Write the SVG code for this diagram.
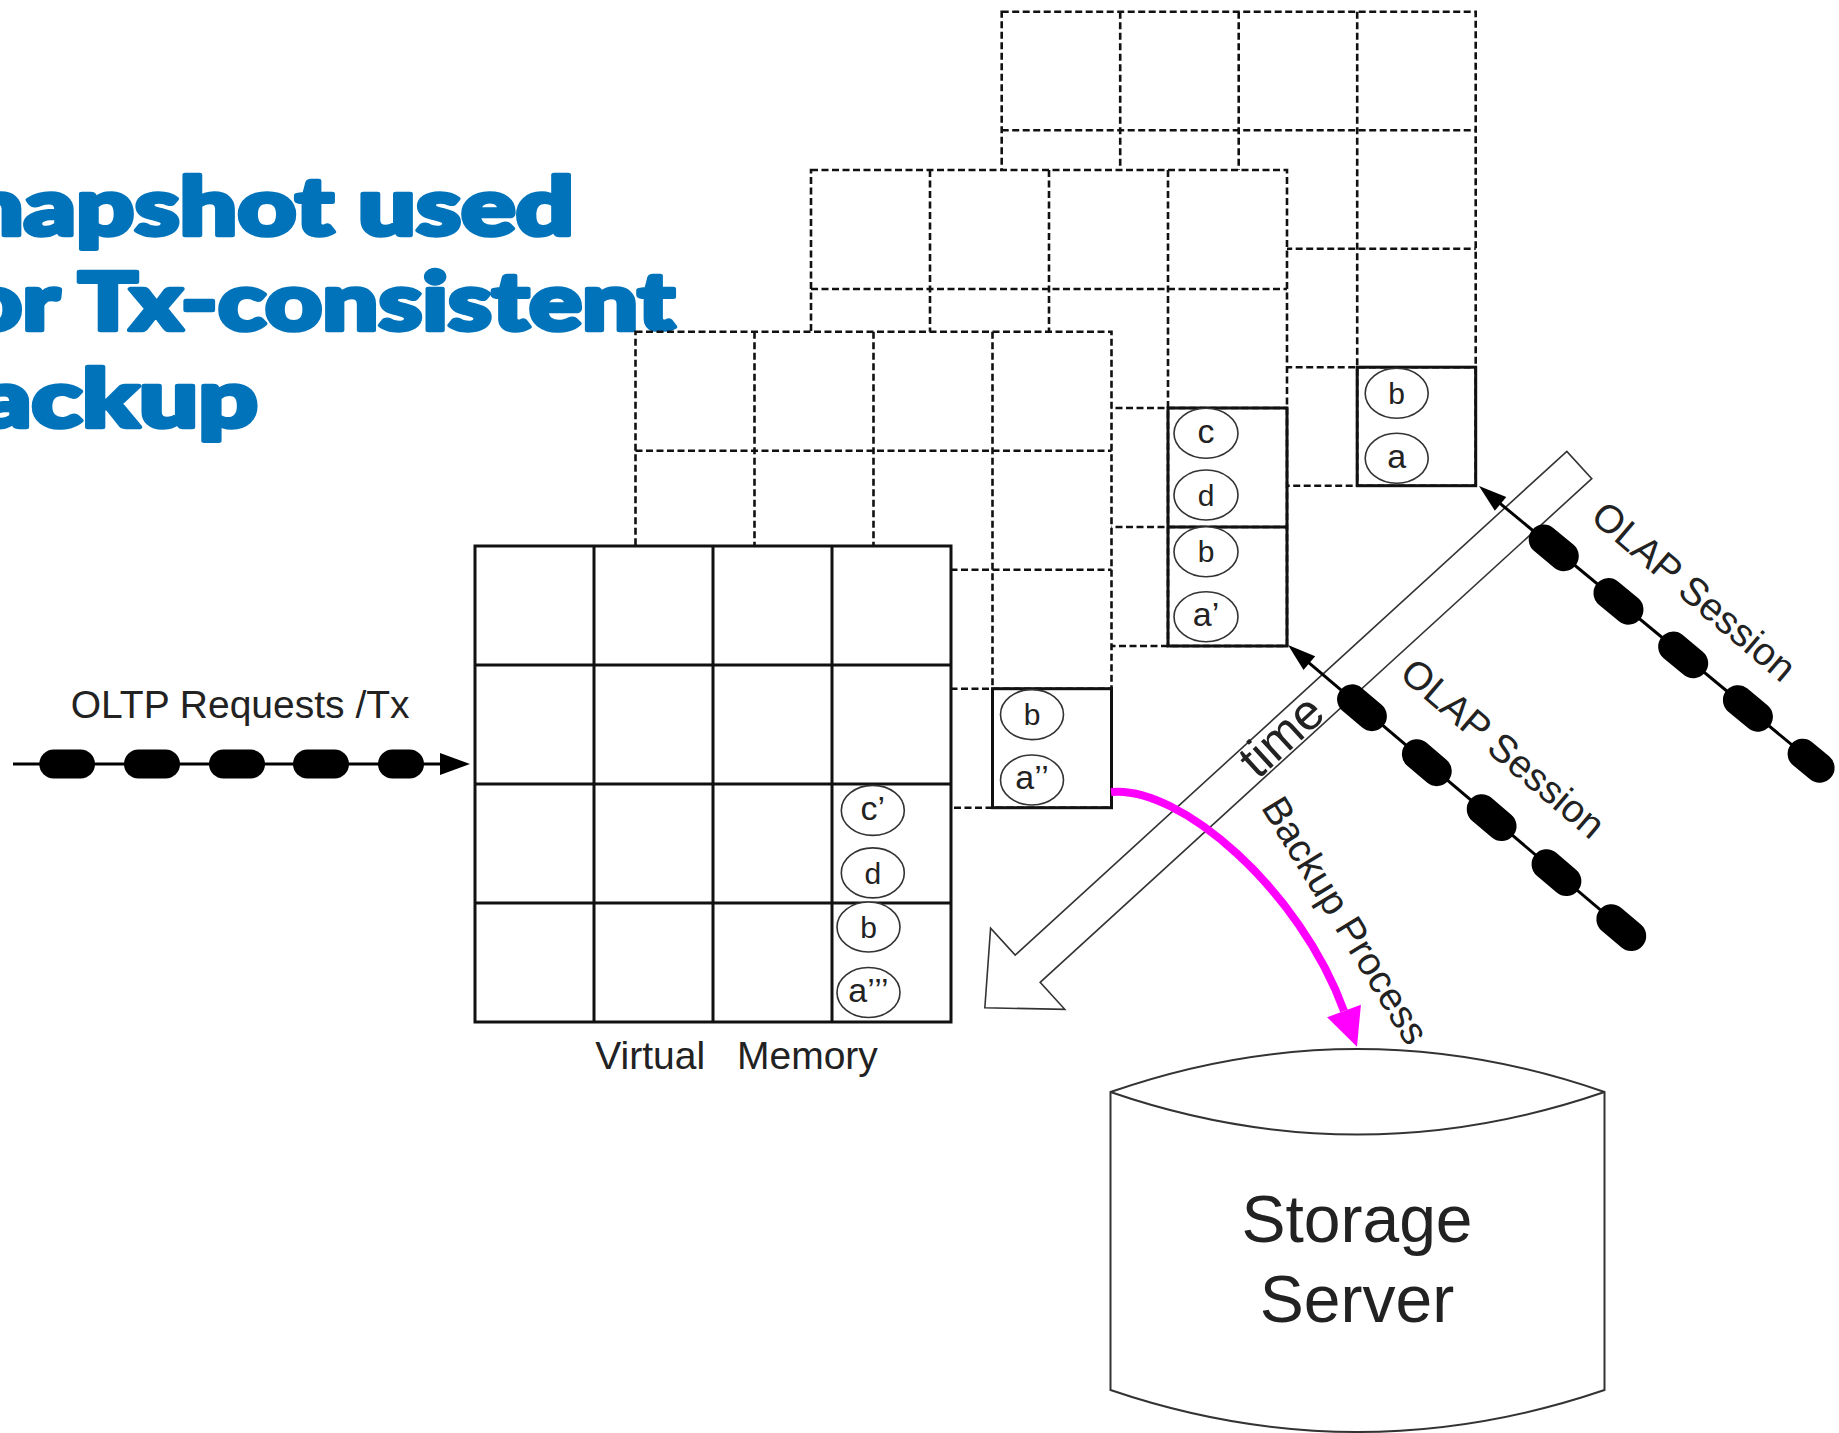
<svg xmlns="http://www.w3.org/2000/svg" width="1839" height="1433" viewBox="0 0 1839 1433">
<defs>
<style>
.bg{fill:#fff;stroke:none}
.dash{fill:none;stroke:#111;stroke-width:2.6;stroke-dasharray:7 3.5}
.solid{fill:none;stroke:#111;stroke-width:3}
.ell{fill:#fff;stroke:#333;stroke-width:1.6}
.lt{font-family:"Liberation Sans",Arial,sans-serif;font-size:30px;fill:#222;text-anchor:middle}
.lx{font-size:34px}
.lbl{font-family:"Liberation Sans",Arial,sans-serif;font-size:39px;fill:#222}
.title{font-family:Lato,Roboto,Inter,"Liberation Sans",sans-serif;font-weight:900;font-size:80px;fill:#0073BA;stroke:#0073BA;stroke-width:4.5;stroke-linejoin:round}
.pill{fill:#000}
.cl{stroke:#000;stroke-width:3;fill:none}
.tarrow{fill:#fff;stroke:#333;stroke-width:1.6}
</style>
</defs>
<rect width="1839" height="1433" fill="#fff"/>

<g id="title">
<text class="title" x="-34" y="235" textLength="608" lengthAdjust="spacingAndGlyphs">napshot used</text>
<text class="title" x="-35" y="330" textLength="710" lengthAdjust="spacingAndGlyphs">or Tx-consistent</text>
<text class="title" x="-22" y="426.7" textLength="280" lengthAdjust="spacingAndGlyphs">ackup</text>
</g>

<g id="snapshot-1">
<rect class="bg" x="1001.7" y="11.7" width="474" height="474"/>
<path class="dash" d="M1001.7,11.7 H1475.7 V485.7 H1001.7 Z M1120.2,11.7 V485.7 M1238.7,11.7 V485.7 M1357.2,11.7 V485.7 M1001.7,130.2 H1475.7 M1001.7,248.7 H1475.7 M1001.7,367.2 H1475.7"/>
<rect class="solid" x="1357.2" y="367.2" width="118.5" height="118.5"/>
<ellipse class="ell" cx="1396.7" cy="393.3" rx="31.5" ry="25"/>
<text class="lt" x="1396.7" y="404">b</text>
<ellipse class="ell" cx="1396.7" cy="458.3" rx="31.5" ry="25"/>
<text class="lt lx" x="1396.7" y="467.5">a</text>
</g>

<g id="snapshot-2">
<rect class="bg" x="811" y="170" width="476" height="476"/>
<path class="dash" d="M811,170 H1287 V646 H811 Z M930,170 V646 M1049,170 V646 M1168,170 V646 M811,289 H1287 M811,408 H1287 M811,527 H1287"/>
<rect class="solid" x="1168" y="408" width="119" height="238"/>
<line class="solid" x1="1168" y1="527" x2="1287" y2="527"/>
<ellipse class="ell" cx="1206" cy="433.3" rx="32" ry="25"/>
<text class="lt lx" x="1206" y="442.5">c</text>
<ellipse class="ell" cx="1206" cy="495" rx="32" ry="25"/>
<text class="lt" x="1206" y="505.7">d</text>
<ellipse class="ell" cx="1206" cy="551.7" rx="32" ry="25"/>
<text class="lt" x="1206" y="562.4">b</text>
<ellipse class="ell" cx="1206" cy="616.7" rx="32" ry="25"/>
<text class="lt lx" x="1206" y="625.9">a’</text>
</g>

<g id="snapshot-3">
<rect class="bg" x="635.5" y="331.7" width="476" height="476"/>
<path class="dash" d="M635.5,331.7 H1111.5 V807.7 H635.5 Z M754.5,331.7 V807.7 M873.5,331.7 V807.7 M992.5,331.7 V807.7 M635.5,450.7 H1111.5 M635.5,569.7 H1111.5 M635.5,688.7 H1111.5"/>
<rect class="solid" x="992.5" y="688.7" width="119" height="119"/>
<ellipse class="ell" cx="1032" cy="714.6" rx="31.5" ry="25"/>
<text class="lt" x="1032" y="725.3">b</text>
<ellipse class="ell" cx="1032" cy="780" rx="31.5" ry="25"/>
<text class="lt lx" x="1032" y="789.2">a’’</text>
</g>

<g id="virtual-memory">
<rect class="bg" x="475" y="546" width="476" height="476"/>
<path class="solid" d="M475,546 H951 V1022 H475 Z M594,546 V1022 M713,546 V1022 M832,546 V1022 M475,665 H951 M475,784 H951 M475,903 H951"/>
<ellipse class="ell" cx="872.8" cy="810.4" rx="31.5" ry="25"/>
<text class="lt lx" x="872.8" y="819.6">c’</text>
<ellipse class="ell" cx="872.8" cy="872.9" rx="31.5" ry="25"/>
<text class="lt" x="872.8" y="883.6">d</text>
<ellipse class="ell" cx="868.5" cy="927" rx="31.5" ry="25"/>
<text class="lt" x="868.5" y="937.7">b</text>
<ellipse class="ell" cx="868.5" cy="992.5" rx="31.5" ry="25"/>
<text class="lt lx" x="868.5" y="1001.7">a’’’</text>
<text class="lbl" y="1069.3"><tspan x="595.3">Virtual</tspan><tspan x="737">Memory</tspan></text>
</g>

<g id="time-arrow">
<polygon class="tarrow" transform="translate(1579.3,465) rotate(137.6)" points="0,-18.5 747,-18.5 747,-55 805,0 747,55 747,18.5 0,18.5"/>
<text class="lbl" style="font-size:50px" text-anchor="middle" transform="translate(1292.6,748.3) rotate(-42.4)">time</text>
</g>

<g id="storage-server">
<path fill="#fff" stroke="#333" stroke-width="2" d="M1110.5,1092 Q1357.5,1006 1604.5,1092 L1604.5,1390 Q1357.5,1474 1110.5,1390 Z"/>
<path fill="none" stroke="#333" stroke-width="2" d="M1110.5,1092 Q1357.5,1177 1604.5,1092"/>
<text class="lbl" style="font-size:66px" text-anchor="middle" x="1357" y="1241.7">Storage</text>
<text class="lbl" style="font-size:66px" text-anchor="middle" x="1357" y="1321.7">Server</text>
</g>

<g id="connectors">
<g id="oltp-requests">
<line class="cl" x1="13" y1="764" x2="442" y2="764"/>
<polygon points="470,764 440,753 440,775" fill="#000"/>
<rect class="pill" x="39.3" y="749.5" width="55.7" height="29" rx="14.5"/>
<rect class="pill" x="124" y="749.5" width="56" height="29" rx="14.5"/>
<rect class="pill" x="209" y="749.5" width="56" height="29" rx="14.5"/>
<rect class="pill" x="293" y="749.5" width="56" height="29" rx="14.5"/>
<rect class="pill" x="378" y="749.5" width="46" height="29" rx="14.5"/>
<text class="lbl" x="70.7" y="718.3">OLTP Requests /Tx</text>
</g>
<g id="olap-session-1">
<g transform="translate(1479,486) rotate(39.6)">
<line class="cl" x1="26" y1="0" x2="432" y2="0"/>
<polygon points="0,0 28,-9 28,9" fill="#000"/>
<rect class="pill" x="69" y="-15" width="56" height="30" rx="15"/>
<rect class="pill" x="153" y="-15" width="56" height="30" rx="15"/>
<rect class="pill" x="237" y="-15" width="56" height="30" rx="15"/>
<rect class="pill" x="321" y="-15" width="56" height="30" rx="15"/>
<rect class="pill" x="405" y="-15" width="52" height="30" rx="15"/>
</g>
<text class="lbl" text-anchor="middle" transform="translate(1685.4,601.5) rotate(40.4)">OLAP Session</text>
</g>
<g id="olap-session-2">
<g transform="translate(1288,645) rotate(40.3)">
<line class="cl" x1="26" y1="0" x2="437" y2="0"/>
<polygon points="0,0 28,-9 28,9" fill="#000"/>
<rect class="pill" x="69" y="-15" width="56" height="30" rx="15"/>
<rect class="pill" x="154" y="-15" width="56" height="30" rx="15"/>
<rect class="pill" x="239" y="-15" width="56" height="30" rx="15"/>
<rect class="pill" x="324" y="-15" width="56" height="30" rx="15"/>
<rect class="pill" x="409" y="-15" width="56" height="30" rx="15"/>
</g>
<text class="lbl" text-anchor="middle" transform="translate(1494.4,758.5) rotate(40.4)">OLAP Session</text>
</g>
<g id="backup-process">
<path d="M1111,792 C1180,785 1300,890 1344,1011" fill="none" stroke="#FF00FF" stroke-width="8"/>
<polygon points="1357,1046.7 1327.1,1017.2 1360.9,1004.8" fill="#FF00FF"/>
<text class="lbl" text-anchor="middle" transform="translate(1334,927.3) rotate(58.5)">Backup Process</text>
</g>
</g>
</svg>
